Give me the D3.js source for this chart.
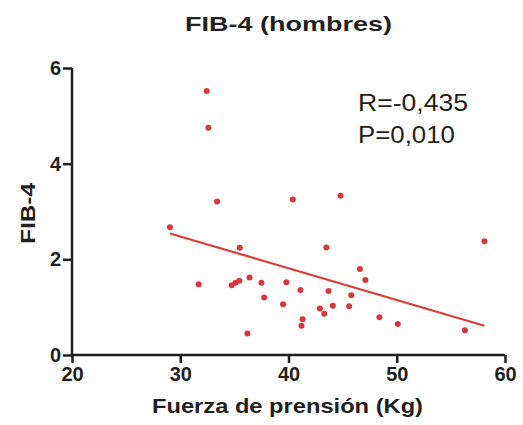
<!DOCTYPE html>
<html>
<head>
<meta charset="utf-8">
<script src="https://cdn.jsdelivr.net/npm/d3@7"></script>
<style>
  body { margin: 0; background: #fff; }
  svg text { font-family: "Liberation Sans", Arial, sans-serif; }
</style>
</head>
<body>
<div id="container"></div>
<script>
// data
let grip = [29.05, 31.7, 32.44, 32.6, 33.4, 34.75, 35.1, 35.45, 35.5, 36.2, 36.4,
            37.5, 37.75, 39.5, 39.8, 40.4, 41.1, 41.2, 41.3, 42.9, 43.3, 43.5,
            43.7, 44.1, 44.8, 45.6, 45.8, 46.6, 47.1, 48.4, 50.1, 56.3, 58.1];
let fib4 = [2.67, 1.48, 5.52, 4.75, 3.21, 1.46, 1.51, 1.55, 2.24, 0.45, 1.62,
            1.51, 1.20, 1.06, 1.52, 3.25, 1.36, 0.61, 0.75, 0.97, 0.86, 2.25,
            1.34, 1.03, 3.33, 1.02, 1.25, 1.80, 1.57, 0.79, 0.65, 0.52, 2.38];

// regression line as drawn
let fitRange = [29.05, 58.1];
let fitSlope = -0.0664;
let fitIntercept = 4.47;

let xTicks = [20, 30, 40, 50, 60];
let yTicks = [0, 2, 4, 6];
let statLines = ["R=-0,435", "P=0,010"];

let red = "#d8363c";
let lineRed = "#e03c36";
let ink = "#1f1f1f";

let viz = d3.select("#container")
  .append("svg")
    .attr("width", 523)
    .attr("height", 425)
    .style("background-color", "white");

let x = d3.scaleLinear().domain([20, 60]).range([72, 505]);
let y = d3.scaleLinear().domain([0, 6]).range([355, 68]);

// axes
let xAxis = viz.append("g")
  .attr("transform", "translate(0," + y(0) + ")")
  .call(d3.axisBottom(x).tickValues(xTicks).tickFormat(d3.format("d")).tickSize(8).tickPadding(4));
let yAxis = viz.append("g")
  .attr("transform", "translate(" + x(20) + ",0)")
  .call(d3.axisLeft(y).tickValues(yTicks).tickFormat(d3.format("d")).tickSize(9).tickPadding(2));

[xAxis, yAxis].forEach(function(a) {
  a.select(".domain").attr("stroke", ink).attr("stroke-width", 2.5);
  a.selectAll(".tick line").attr("stroke", ink).attr("stroke-width", 2.5);
  a.selectAll(".tick text")
    .attr("fill", ink)
    .attr("font-size", 20)
    .attr("font-weight", "bold")
    .style("font-family", "'Liberation Sans', Arial, sans-serif");
});
// drop the axis end caps d3 adds on the domain path
xAxis.select(".domain").attr("d", "M" + x(20) + ",0H" + x(60));
yAxis.select(".domain").attr("d", "M0," + y(6) + "V" + y(0));

// regression line
viz.append("line")
  .attr("x1", x(fitRange[0]))
  .attr("y1", y(fitIntercept + fitSlope * fitRange[0]))
  .attr("x2", x(fitRange[1]))
  .attr("y2", y(fitIntercept + fitSlope * fitRange[1]))
  .attr("stroke", lineRed)
  .attr("stroke-width", 2.2);

// points
viz.selectAll("circle.pt")
  .data(d3.range(grip.length))
  .join("circle")
    .attr("class", "pt")
    .attr("cx", i => x(grip[i]))
    .attr("cy", i => y(fib4[i]))
    .attr("r", 3)
    .attr("fill", red);

// title
viz.append("text")
  .text("FIB-4 (hombres)")
  .attr("x", 185)
  .attr("y", 31)
  .attr("font-size", 21)
  .attr("font-weight", "bold")
  .attr("fill", ink)
  .attr("textLength", 207)
  .attr("lengthAdjust", "spacingAndGlyphs");

// axis titles
viz.append("text")
  .text("Fuerza de prensión (Kg)")
  .attr("x", 152)
  .attr("y", 413)
  .attr("font-size", 21)
  .attr("font-weight", "bold")
  .attr("fill", ink)
  .attr("textLength", 271)
  .attr("lengthAdjust", "spacingAndGlyphs");

viz.append("text")
  .text("FIB-4")
  .attr("transform", "translate(35,244) rotate(-90)")
  .attr("font-size", 21)
  .attr("font-weight", "bold")
  .attr("fill", ink)
  .attr("textLength", 61)
  .attr("lengthAdjust", "spacingAndGlyphs");

// stats
viz.selectAll("text.stat")
  .data(statLines)
  .join("text")
    .attr("class", "stat")
    .text(d => d)
    .attr("x", 358)
    .attr("y", (d, i) => 111 + i * 32)
    .attr("font-size", 24)
    .attr("fill", ink)
    .attr("textLength", (d, i) => i === 0 ? 110 : 97)
    .attr("lengthAdjust", "spacingAndGlyphs");
</script>
</body>
</html>
